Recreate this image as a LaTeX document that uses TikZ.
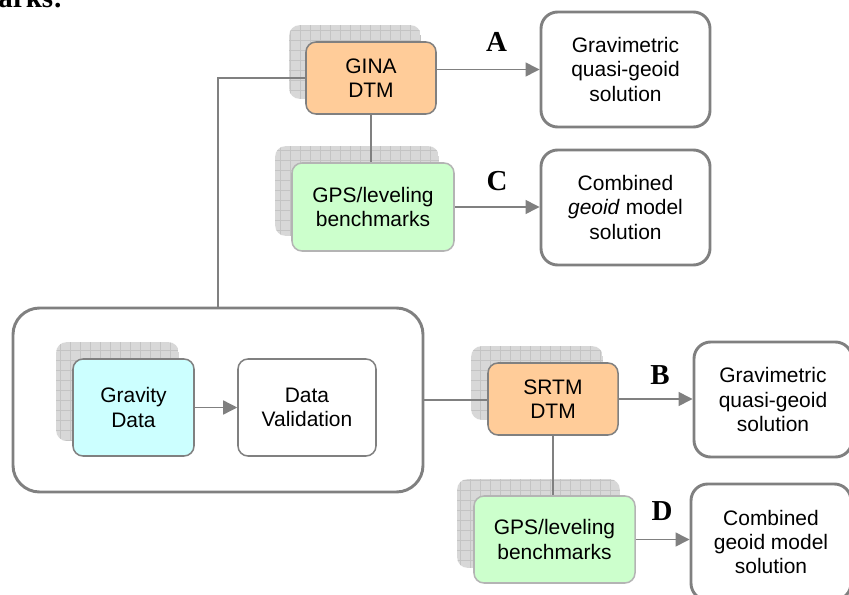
\documentclass[tikz,border=0pt]{standalone}
\usepackage{fontspec}
\setmainfont{Liberation Sans}
\newfontfamily\lblfont{Liberation Serif}
\usetikzlibrary{arrows.meta,calc,backgrounds}
\definecolor{peach}{HTML}{FFCC99}
\definecolor{mint}{HTML}{CCFFCC}
\definecolor{aqua}{HTML}{CCFFFF}
\definecolor{edgegray}{HTML}{808080}
\definecolor{lightedge}{HTML}{B4B4B4}
\definecolor{shadefill}{HTML}{D8D8D8}
\definecolor{shadeline}{HTML}{C4C4C4}
\begin{document}
\begin{tikzpicture}[x=0.03cm,y=-0.03cm]
	\tikzset{>={Triangle[length=0.42cm,width=0.42cm]}}
	\tikzset{box/.style={draw=edgegray,line width=1.3pt,rounded corners=0.3cm,align=center,inner sep=0pt,font=\fontsize{17.9}{20.9}\selectfont}}
	\tikzset{result/.style={draw=edgegray,line width=2.5pt,rounded corners=0.5cm,align=center,inner sep=0pt,minimum width=5.07cm,minimum height=3.45cm,font=\fontsize{17.9}{20.9}\selectfont}}
	\tikzset{link/.style={draw=edgegray,line width=1.2pt}}
	\tikzset{tag/.style={anchor=base,font=\lblfont\bfseries\fontsize{24.7}{28}\selectfont}}
	\useasboundingbox (0,0) rectangle (849,594);
	\clip (0,0) rectangle (849,594);
	\node [anchor=base east,inner sep=0pt,font=\lblfont\bfseries\fontsize{24.7}{28}\selectfont] (head) at (63,8) {marks:};
	\node [draw=edgegray,line width=2.5pt,rounded corners=0.8cm,minimum width=12.3cm,minimum height=5.52cm] (big) at (218,400) {};
	\node [box,fill=aqua,minimum width=3.63cm,minimum height=2.91cm] (grav) at (133.5,407.5) {Gravity\\Data};
	\node [box,fill=white,minimum width=4.14cm,minimum height=2.91cm] (valid) at (307,407.5) {Data\\Validation};
	\node [box,fill=peach,minimum width=3.9cm,minimum height=2.16cm] (gina) at (371,78) {GINA\\DTM};
	\node [box,draw=lightedge,fill=mint,minimum width=4.86cm,minimum height=2.64cm] (gps1) at (373,207) {GPS/leveling\\benchmarks};
	\node [box,fill=peach,minimum width=3.9cm,minimum height=2.16cm] (srtm) at (553,399) {SRTM\\DTM};
	\node [box,draw=lightedge,fill=mint,minimum width=4.83cm,minimum height=2.61cm] (gps2) at (554.5,539.5) {GPS/leveling\\benchmarks};
	\node [result] (resA) at (625.5,69.5) {Gravimetric\\quasi-geoid\\solution};
	\node [result] (resC) at (625.5,207.5) {Combined\\\textit{geoid} model\\solution};
	\node [result,minimum width=4.74cm] (resB) at (773,399.5) {Gravimetric\\quasi-geoid\\solution};
	\node [result,minimum width=4.8cm,minimum height=3.48cm] (resD) at (771,542) {Combined\\geoid model\\solution};
	\node [tag] (tagA) at (496.5,52) {A};
	\node [tag] (tagC) at (497,190) {C};
	\node [tag] (tagB) at (660,384) {B};
	\node [tag] (tagD) at (662,520) {D};
	\draw [link] (big.north) |- (gina.west);
	\draw [link] (gina.south) -- (gina.south |- gps1.north);
	\draw [link,->] (gina.east |- resA.west) -- (resA.west);
	\draw [link,->] (gps1.east) -- (gps1.east -| resC.west);
	\draw [link,->] (grav.east) -- (valid.west);
	\draw [link] (big.east) -- (big.east -| srtm.west);
	\draw [link] (srtm.south) -- (srtm.south |- gps2.north);
	\draw [link,->] (srtm.east) -- (srtm.east -| resB.west);
	\draw [link,->] (gps2.east) -- (gps2.east -| resD.west);
	\begin{scope}[on background layer]
		\fill [white] (0,0) rectangle (849,594);
		\foreach \n in {gina,gps1,grav,srtm,gps2}{
			\begin{scope}
				\clip [rounded corners=0.3cm] ($(\n.south west)+(-16,-16)$) rectangle ($(\n.north east)+(-16,-16)$);
				\fill [shadefill] ($(\n.south west)+(-16,-16)$) rectangle ($(\n.north east)+(-16,-16)$);
				\draw [shadeline,step=0.3cm] ($(\n.south west)+(-16,-16)$) grid ($(\n.north east)+(-16,-16)$);
			\end{scope}
		}
	\end{scope}
\end{tikzpicture}
\end{document}
